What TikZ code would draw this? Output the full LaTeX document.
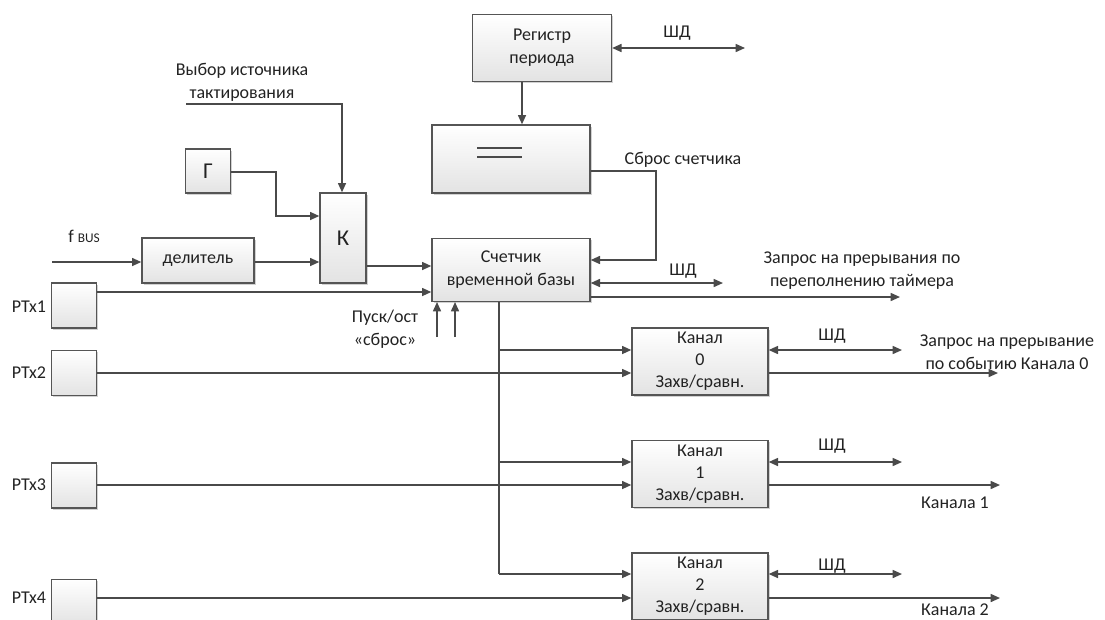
\documentclass[tikz,border=0pt]{standalone}
\usepackage{fontspec}
\setmainfont{Carlito}
\usetikzlibrary{arrows.meta,shadows}
\definecolor{ink}{HTML}{222222}
\definecolor{wire}{HTML}{4A4A4A}
\definecolor{edge}{HTML}{555555}
\tikzset{
  txt/.style={font=\fontsize{13.5}{17.25}\selectfont, text=ink, inner sep=0pt, align=center},
  box/.style={txt, draw=edge, line width=1pt, top color=white, bottom color=black!11,
    drop shadow={shadow xshift=1.3pt, shadow yshift=-1.3pt, fill=black!40, opacity=0.45}},
  ln/.style={draw=wire, line width=1.15pt},
  arr/.style={ln, -{Triangle[length=7pt,width=6pt]}},
  darr/.style={ln, {Triangle[length=7pt,width=6pt]}-{Triangle[length=7pt,width=6pt]}},
  lbl/.style={txt},
}
\begin{document}
\begin{tikzpicture}[x=0.75pt,y=-0.75pt]
\useasboundingbox (0,0) rectangle (1105,619);
\clip (0,0) rectangle (1105,619);
% boxes
\node[box, minimum width=104.25pt, minimum height=50.25pt] (reg) at (542,48) {Регистр\\периода};
\node[box, minimum width=118.5pt, minimum height=51pt] (cmp) at (511,159) {};
\node[box, minimum width=118.5pt, minimum height=47pt] (cnt) at (511,270) {Счетчик\\временной базы};
\node[box, minimum width=33.75pt, minimum height=33pt, font=\fontsize{17}{20}\selectfont] (G) at (208,171) {Г};
\node[box, minimum width=34.5pt, minimum height=67.5pt, font=\fontsize{17}{20}\selectfont] (K) at (343,238) {К};
\node[box, minimum width=84pt, minimum height=33.75pt] (div) at (198,260.5) {делитель};
\node[box, minimum width=33.75pt, minimum height=33.75pt] (p1) at (74,305.5) {};
\node[box, minimum width=33.75pt, minimum height=33.75pt] (p2) at (74,373) {};
\node[box, minimum width=33.75pt, minimum height=33.75pt] (p3) at (74,485.5) {};
\node[box, minimum width=33.75pt, minimum height=33.75pt] (p4) at (74,602) {};
\node[box, minimum width=102pt, minimum height=50.25pt, font=\fontsize{13.5}{16.5}\selectfont] (ch0) at (700,361.5) {Канал\\0\\Захв/сравн.};
\node[box, minimum width=102pt, minimum height=50.25pt, font=\fontsize{13.5}{16.5}\selectfont] (ch1) at (700,474) {Канал\\1\\Захв/сравн.};
\node[box, minimum width=102pt, minimum height=50.25pt, font=\fontsize{13.5}{16.5}\selectfont] (ch2) at (700,586.5) {Канал\\2\\Захв/сравн.};
% equality sign in comparator
\draw[ln] (477,148) -- (522,148) (477,157) -- (522,157);
% labels
\node[lbl] (lshd0) at (677,33) {ШД};
\node[lbl] (lsbros) at (683,160) {Сброс счетчика};
\node[lbl] (lshd1) at (683,271) {ШД};
\node[lbl] (lovf) at (862,271) {Запрос на прерывания по\\переполнению таймера};
\node[lbl] (lshd2) at (832,336) {ШД};
\node[lbl] (lshd3) at (832,446) {ШД};
\node[lbl] (lshd4) at (832,566) {ШД};
\node[lbl] (lirq0) at (1007,352) {Запрос на прерывание\\по событию Канала 0};
\node[lbl] (lk1) at (955,503) {Канала 1};
\node[lbl] (lk2) at (955,610) {Канала 2};
\node[lbl] (lsel) at (242,82) {Выбор источника\\тактирования};
\node[lbl] (lstart) at (385,329) {Пуск/ост\\«сброс»};
\node[lbl] (lp1) at (29,307) {PTx1};
\node[lbl] (lp2) at (29,373) {PTx2};
\node[lbl] (lp3) at (29,485) {PTx3};
\node[lbl] (lp4) at (29,598) {PTx4};
\node[lbl] (lfbus) at (84,236) {f {\fontsize{10}{12}\selectfont BUS}};
% connectors: top
\coordinate (shd0) at (745,48);
\draw[darr] (reg.east |- shd0) -- (shd0);
\coordinate (c1) at (522,0);
\draw[arr] (reg.south -| c1) -- (cmp.north -| c1);
\coordinate (s1) at (656,171);
\coordinate (s2) at (656,260);
\draw[arr] (cmp.east |- s1) -- (s1) -- (s2) -- (cnt.east |- s2);
\coordinate (shd1) at (723,283);
\draw[darr] (cnt.east |- shd1) -- (shd1);
\coordinate (ovf) at (900,297);
\draw[arr] (cnt.east |- ovf) -- (ovf);
% clock select
\coordinate (v1) at (186,104);
\coordinate (v2) at (342,104);
\draw[arr] (v1) -- (v2) -- (K.north -| v2);
\coordinate (g1) at (276,172);
\coordinate (g2) at (276,216);
\draw[arr] (G.east |- g1) -- (g1) -- (g2) -- (K.west |- g2);
\coordinate (fb) at (52,262);
\draw[arr] (fb) -- (div.west |- fb);
\coordinate (d1) at (0,262);
\draw[arr] (div.east |- d1) -- (K.west |- d1);
\coordinate (k1) at (0,266);
\draw[arr] (K.east |- k1) -- (cnt.west |- k1);
\coordinate (q1) at (0,292);
\draw[arr] (p1.east |- q1) -- (cnt.west |- q1);
% start/stop arrows
\coordinate (st1) at (437,337);
\coordinate (st2) at (455,337);
\draw[arr] (st1) -- (cnt.south -| st1);
\draw[arr] (st2) -- (cnt.south -| st2);
% bus to channels
\coordinate (bx) at (499,0);
\coordinate (b0) at (499,350);
\coordinate (b1) at (499,462);
\coordinate (b2) at (499,574);
\draw[ln] (cnt.south -| bx) -- (b2);
\draw[arr] (b0) -- (ch0.west |- b0);
\draw[arr] (b1) -- (ch1.west |- b1);
\draw[arr] (b2) -- (ch2.west |- b2);
% PTx inputs to channels
\coordinate (q2) at (0,373);
\coordinate (q3) at (0,485);
\coordinate (q4) at (0,598);
\draw[arr] (p2.east |- q2) -- (ch0.west |- q2);
\draw[arr] (p3.east |- q3) -- (ch1.west |- q3);
\draw[arr] (p4.east |- q4) -- (ch2.west |- q4);
% channel outputs
\coordinate (h0) at (902,350);
\coordinate (h1) at (902,462);
\coordinate (h2) at (902,574);
\draw[darr] (ch0.east |- h0) -- (h0);
\draw[darr] (ch1.east |- h1) -- (h1);
\draw[darr] (ch2.east |- h2) -- (h2);
\coordinate (o0) at (998,373);
\coordinate (o1) at (1000,485);
\coordinate (o2) at (1000,598);
\draw[arr] (ch0.east |- o0) -- (o0);
\draw[arr] (ch1.east |- o1) -- (o1);
\draw[arr] (ch2.east |- o2) -- (o2);
\end{tikzpicture}
\end{document}
